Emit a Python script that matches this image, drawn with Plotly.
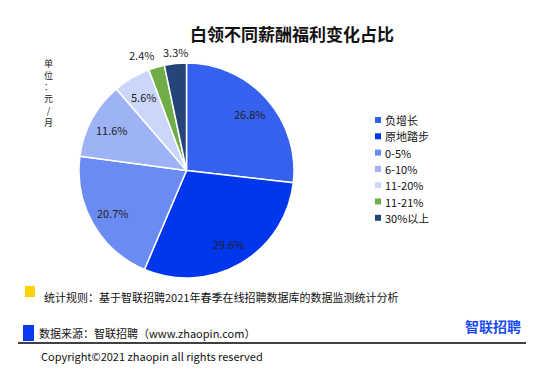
import math
import plotly.graph_objects as go

# page has an 8px body margin; lay out in window pixel coordinates
WIN_W, WIN_H = 550, 377
OFF = 8
W, H = WIN_W - OFF, WIN_H - OFF

title = "白领不同薪酬福利变化占比"
labels = ["负增长", "原地踏步", "0-5%", "6-10%", "11-20%", "11-21%", "30%以上"]
values = [26.8, 29.6, 20.7, 11.6, 5.6, 2.4, 3.3]
colors = ["#3561EE", "#0036EC", "#6A8CF2", "#9DB3F6", "#CBD7FA", "#70AD47", "#254478"]
label_inside = [True, True, True, True, True, False, False]
unit_chars = ["单", "位", "：", "元", "/", "月"]
rule_text = "统计规则：基于智联招聘2021年春季在线招聘数据库的数据监测统计分析"
source_text = "数据来源：智联招聘（www.zhaopin.com）"
copyright_text = "Copyright©2021 zhaopin all rights reserved"
logo_text = "智联招聘"

FONT = "Noto Sans CJK SC"

# pie geometry (window pixels)
CX, CY, R = 186.5, 170.5, 107.5


def px(x):
    return (x - OFF) / W


def py(y):
    return 1 - (y - OFF) / H


fig = go.Figure()
fig.add_trace(go.Pie(
    labels=labels,
    values=values,
    sort=False,
    direction="clockwise",
    rotation=0,
    marker=dict(colors=colors, line=dict(color="white", width=1.5)),
    textinfo="none",
    domain=dict(x=[px(CX - R), px(CX + R)], y=[py(CY + R), py(CY - R)]),
    showlegend=False,
    hoverinfo="label+value",
))

annotations = []
shapes = []

# slice value labels, placed from the data's cumulative angles
total = sum(values)
cum = 0.0
for v, inside in zip(values, label_inside):
    mid = (cum + v / 2) / total * 2 * math.pi
    cum += v
    s, c = math.sin(mid), math.cos(mid)
    if inside:
        r = 0.79 * R
        annotations.append(dict(text=f"{v}%", x=px(CX + r * s), y=py(CY - r * c),
                                xanchor="center", yanchor="middle", showarrow=False,
                                font=dict(family=FONT, size=11, color="#222")))
    else:
        r = R + 2
        annotations.append(dict(text=f"{v}%", x=px(CX + r * s), y=py(CY - r * c),
                                xanchor="right" if s < -0.2 else "center",
                                yanchor="bottom", showarrow=False,
                                font=dict(family=FONT, size=11, color="#222")))

# title
annotations.append(dict(text="<b>" + title + "</b>", x=px(292), y=py(34),
                        xanchor="center", yanchor="middle", showarrow=False,
                        font=dict(family=FONT, size=17, color="#111")))

# unit (vertical, stacked characters)
annotations.append(dict(text="<br>".join(unit_chars), x=px(48), y=py(55),
                        xanchor="center", yanchor="top", showarrow=False,
                        align="center",
                        font=dict(family=FONT, size=9, color="#222")))

# legend
for i, (lab, col) in enumerate(zip(labels, colors)):
    yc = 120 + i * 16.3
    shapes.append(dict(type="rect", xref="paper", yref="paper",
                       x0=px(375), x1=px(381), y0=py(yc - 3), y1=py(yc + 3),
                       fillcolor=col, line=dict(width=0)))
    annotations.append(dict(text=lab, x=px(383), y=py(yc), xanchor="left",
                            yanchor="middle", showarrow=False,
                            font=dict(family=FONT, size=11, color="#111")))

# footer
shapes.append(dict(type="rect", xref="paper", yref="paper",
                   x0=px(25), x1=px(35), y0=py(297), y1=py(286),
                   fillcolor="#FFD200", line=dict(width=0)))
annotations.append(dict(text=rule_text, x=px(42), y=py(297), xanchor="left",
                        yanchor="middle", showarrow=False,
                        font=dict(family=FONT, size=11, color="#111")))
shapes.append(dict(type="rect", xref="paper", yref="paper",
                   x0=px(23), x1=px(34), y0=py(341), y1=py(325),
                   fillcolor="#0A3BF0", line=dict(width=0)))
annotations.append(dict(text=source_text, x=px(37), y=py(333), xanchor="left",
                        yanchor="middle", showarrow=False,
                        font=dict(family=FONT, size=11, color="#111")))
shapes.append(dict(type="line", xref="paper", yref="paper",
                   x0=px(18), x1=px(526), y0=py(343), y1=py(343),
                   line=dict(color="#000", width=1.5)))
annotations.append(dict(text=copyright_text, x=px(39), y=py(356), xanchor="left",
                        yanchor="middle", showarrow=False,
                        font=dict(family=FONT, size=11, color="#111")))
annotations.append(dict(text="<b>" + logo_text + "</b>", x=px(523), y=py(326),
                        xanchor="right", yanchor="middle", showarrow=False,
                        font=dict(family=FONT, size=14, color="#1C4CF0")))

fig.update_layout(
    width=W, height=H,
    margin=dict(l=0, r=0, t=0, b=0),
    paper_bgcolor="white",
    plot_bgcolor="white",
    annotations=annotations,
    shapes=shapes,
    showlegend=False,
)

fig.write_html("out.html")
